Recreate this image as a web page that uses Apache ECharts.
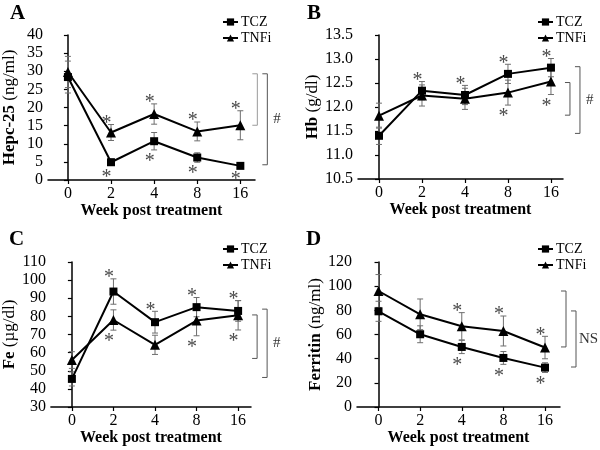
<!DOCTYPE html>
<html><head><meta charset="utf-8">
<script src="https://cdn.jsdelivr.net/npm/echarts@6/dist/echarts.min.js"></script>
<style>html,body{margin:0;padding:0;background:#fff}#c{width:600px;height:450px}</style>
</head><body><div id="c"></div>
<script>
const weeks = ['0', '2', '4', '8', '16'];
const seriesNames = ['TCZ', 'TNFi'];

// Panel A: Hepc-25 (ng/ml)
const hepcTCZ = [28.4, 4.9, 10.7, 6.2, 3.9];
const hepcTCZErr = [4.4, 0.9, 2.4, 1.3, 0.4];
const hepcTNFi = [29.8, 13.1, 18.2, 13.4, 15.1];
const hepcTNFiErr = [4.3, 2.2, 2.8, 2.6, 4.0];
const hepcTCZStar = [0, 1, 1, 1, 1];
const hepcTNFiStar = [0, 1, 1, 1, 1];
const hepcBrackets = [[29.3, 15.1], [29.3, 4.2]];

// Panel B: Hb (g/dl)
const hbTCZ = [11.40, 12.34, 12.25, 12.69, 12.82];
const hbTCZErr = [0.18, 0.19, 0.20, 0.20, 0.19];
const hbTNFi = [11.82, 12.24, 12.17, 12.30, 12.53];
const hbTNFiErr = [0.26, 0.22, 0.22, 0.26, 0.27];
const hbTCZStar = [0, 1, 1, 1, 1];
const hbTNFiStar = [0, 0, 0, 1, 1];
const hbBrackets = [[12.51, 11.83], [12.84, 11.45]];

// Panel C: Fe (µg/dl)
const feTCZ = [45.5, 93.7, 76.8, 85.1, 83.0];
const feTCZErr = [3.9, 7.0, 6.0, 5.3, 5.7];
const feTNFi = [55.9, 78.0, 64.3, 77.7, 80.6];
const feTNFiErr = [4.6, 5.6, 5.3, 8.4, 8.1];
const feTCZStar = [0, 1, 1, 1, 1];
const feTNFiStar = [0, 1, 0, 1, 1];
const feBrackets = [[80.8, 56.8], [84.0, 46.3]];

// Panel D: Ferritin (ng/ml)
const ferTCZ = [79.2, 60.2, 49.7, 40.6, 32.6];
const ferTCZErr = [8.3, 7.0, 5.5, 5.3, 4.0];
const ferTNFi = [96.0, 76.7, 66.8, 62.9, 49.2];
const ferTNFiErr = [13.6, 12.7, 11.3, 12.4, 9.3];
const ferTCZStar = [0, 0, 1, 1, 1];
const ferTNFiStar = [0, 0, 1, 1, 1];
const ferBrackets = [[96.0, 49.7], [79.5, 33.1]];

const panels = [
  {letter: 'A', yb: 'Hepc-25', yn: '(ng/ml)', min: 0, max: 40, interval: 5, dec: 0,
   tcz: hepcTCZ, tczErr: hepcTCZErr, tnfi: hepcTNFi, tnfiErr: hepcTNFiErr,
   tczStar: hepcTCZStar, tnfiStar: hepcTNFiStar, tczDir: -1, tnfiDir: 1,
   brackets: hepcBrackets, sig: '#'},
  {letter: 'B', yb: 'Hb', yn: '(g/dl)', min: 10.5, max: 13.5, interval: 0.5, dec: 1,
   tcz: hbTCZ, tczErr: hbTCZErr, tnfi: hbTNFi, tnfiErr: hbTNFiErr,
   tczStar: hbTCZStar, tnfiStar: hbTNFiStar, tczDir: 1, tnfiDir: -1,
   brackets: hbBrackets, sig: '#'},
  {letter: 'C', yb: 'Fe', yn: '(µg/dl)', min: 30, max: 110, interval: 10, dec: 0,
   tcz: feTCZ, tczErr: feTCZErr, tnfi: feTNFi, tnfiErr: feTNFiErr,
   tczStar: feTCZStar, tnfiStar: feTNFiStar, tczDir: 1, tnfiDir: -1,
   brackets: feBrackets, sig: '#'},
  {letter: 'D', yb: 'Ferritin', yn: '(ng/ml)', min: 0, max: 120, interval: 20, dec: 0,
   tcz: ferTCZ, tczErr: ferTCZErr, tnfi: ferTNFi, tnfiErr: ferTNFiErr,
   tczStar: ferTCZStar, tnfiStar: ferTNFiStar, tczDir: -1, tnfiDir: 1,
   brackets: ferBrackets, sig: 'NS'}
];

// layout (pixels)
const layout = [
  {left: 47, top: 35, width: 208, height: 145, xmin: -0.462, xmax: 4.34, legL: 222, legT: 15, tL: 10, tT: 3, b: [17, 27], sx: 6},
  {left: 358, top: 35, width: 205, height: 144, xmin: -0.488, xmax: 4.28, legL: 537, legT: 15, tL: 307, tT: 3, b: [19, 29], sx: 6},
  {left: 46, top: 262, width: 205, height: 145, xmin: -0.505, xmax: 4.31, legL: 222, legT: 242, tL: 9, tT: 229, b: [19, 29], sx: 6},
  {left: 357, top: 262, width: 203, height: 145, xmin: -0.517, xmax: 4.36, legL: 537, legT: 242, tL: 306, tT: 229, b: [21, 31], sx: 3}
];

const SERIF = '"Liberation Serif", "Times New Roman", serif';
const idx = weeks.map((w, i) => i);

const option = {
  animation: false,
  backgroundColor: '#fff',
  title: [], grid: [], xAxis: [], yAxis: [], legend: [], series: []
};

function errRender(dir) {
  return function (params, api) {
    const i = api.value(0), m = api.value(1), e = api.value(2), s = api.value(3);
    const top = api.coord([i, m + e]);
    const bot = api.coord([i, m - e]);
    const x = top[0];
    const st = {stroke: '#6e6e6e', lineWidth: 1};
    const ch = [
      {type: 'line', shape: {x1: x, y1: top[1], x2: x, y2: bot[1]}, style: st},
      {type: 'line', shape: {x1: x - 3, y1: top[1], x2: x + 3, y2: top[1]}, style: st},
      {type: 'line', shape: {x1: x - 3, y1: bot[1], x2: x + 3, y2: bot[1]}, style: st}
    ];
    if (s) {
      const cy = dir > 0 ? top[1] - 6 : bot[1] + 7;
      ch.push({type: 'text', x: x - 4.5, y: cy + 5,
        style: {text: '*', font: '20px ' + SERIF, fill: '#4a4a4a', align: 'center', verticalAlign: 'middle'}});
    }
    return {type: 'group', children: ch};
  };
}

panels.forEach((p, g) => {
  const L = layout[g];
  option.title.push({text: p.letter, left: L.tL, top: L.tT, padding: 0,
    textStyle: {fontFamily: SERIF, fontWeight: 'bold', fontSize: 21, color: '#000'}});
  option.grid.push({left: L.left, top: L.top, width: L.width, height: L.height, containLabel: false});
  option.xAxis.push({type: 'value', gridIndex: g, min: L.xmin, max: L.xmax,
    name: 'Week post treatment', nameLocation: 'middle', nameGap: 21,
    nameTextStyle: {fontFamily: SERIF, fontWeight: 'bold', fontSize: 16, color: '#000'},
    axisLine: {show: true, lineStyle: {color: '#000', width: 1.5}},
    axisTick: {show: true, length: 4, customValues: idx, lineStyle: {color: '#000', width: 1.2}},
    axisLabel: {customValues: idx, margin: 6, fontFamily: SERIF, fontSize: 16, color: '#000',
      formatter: v => weeks[Math.round(v)]},
    splitLine: {show: false}});
  option.yAxis.push({type: 'value', gridIndex: g, min: p.min, max: p.max, interval: p.interval,
    name: '{b|' + p.yb + '} {n|' + p.yn + '}', nameLocation: 'middle', nameGap: 30, nameRotate: 90,
    nameTextStyle: {fontFamily: SERIF, fontSize: 17, color: '#000',
      rich: {b: {fontFamily: SERIF, fontSize: 17, fontWeight: 'bold', color: '#000'},
             n: {fontFamily: SERIF, fontSize: 17, color: '#000'}}},
    axisLine: {show: true, lineStyle: {color: '#000', width: 1.5}},
    axisTick: {show: true, length: 4, lineStyle: {color: '#000', width: 1.2}},
    axisLabel: {margin: 5, fontFamily: SERIF, fontSize: 16, color: '#000',
      formatter: v => v.toFixed(p.dec)},
    splitLine: {show: false}});
  option.legend.push({data: seriesNames, orient: 'vertical', left: L.legL, top: L.legT, padding: 0,
    itemWidth: 15, itemHeight: 9, itemGap: 2, selectedMode: false,
    textStyle: {fontFamily: SERIF, fontSize: 14, color: '#000', padding: [0, 0, 0, -2]}});

  const groups = [
    {name: 'TCZ', m: p.tcz, e: p.tczErr, s: p.tczStar, dir: p.tczDir, sym: 'rect', size: 8},
    {name: 'TNFi', m: p.tnfi, e: p.tnfiErr, s: p.tnfiStar, dir: p.tnfiDir, sym: 'triangle', size: 10}
  ];
  groups.forEach((sg, k) => {
    option.series.push({type: 'custom', name: 'err' + g + '_' + k, xAxisIndex: g, yAxisIndex: g,
      renderItem: errRender(sg.dir), z: 1, silent: true,
      data: sg.m.map((v, i) => [i, v, sg.e[i], sg.s[i]])});
  });
  groups.forEach(sg => {
    option.series.push({type: 'line', name: sg.name, xAxisIndex: g, yAxisIndex: g, z: 3,
      data: sg.m.map((v, i) => [i, v]), symbol: sg.sym, symbolSize: sg.size,
      lineStyle: {color: '#000', width: 2}, itemStyle: {color: '#000', borderWidth: 0}});
  });
  option.series.push({type: 'custom', name: 'br' + g, xAxisIndex: g, yAxisIndex: g, z: 2, silent: true,
    data: p.brackets.map((b, k) => [k, b[0], b[1]]),
    renderItem: function (params, api) {
      const k = api.value(0);
      const a = api.coord([weeks.length - 1, api.value(1)]);
      const b = api.coord([weeks.length - 1, api.value(2)]);
      const x = a[0] + L.b[k];
      const st = {stroke: k === 0 && g === 0 ? '#9a9a9a' : '#555', lineWidth: 1};
      const ch = [
        {type: 'line', shape: {x1: x, y1: a[1], x2: x, y2: b[1]}, style: st},
        {type: 'line', shape: {x1: x - 5, y1: a[1], x2: x, y2: a[1]}, style: st},
        {type: 'line', shape: {x1: x - 5, y1: b[1], x2: x, y2: b[1]}, style: st}
      ];
      if (k === 1) {
        ch.push({type: 'text', x: x + L.sx, y: (a[1] + b[1]) / 2,
          style: {text: p.sig, font: '15px ' + SERIF, fill: '#333', align: 'left', verticalAlign: 'middle'}});
      }
      return {type: 'group', children: ch};
    }});
});

const chart = echarts.init(document.getElementById('c'), null, {renderer: 'canvas'});
chart.setOption(option);
</script>
</body></html>
